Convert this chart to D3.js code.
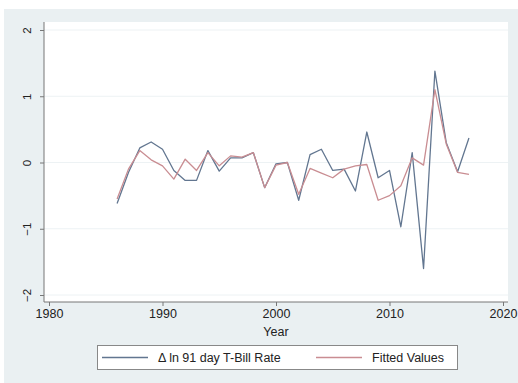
<!DOCTYPE html>
<html>
<head>
<meta charset="utf-8">
<script src="https://cdn.jsdelivr.net/npm/d3@7"></script>
<style>
  body { margin: 0; background: #fff; }
  text { font-family: "Liberation Sans", Arial, sans-serif; fill: #222; }
</style>
</head>
<body>
<svg id="chart" width="518" height="383"></svg>
<script>
// data
const years = d3.range(1986, 2018);
const actual = [-0.62, -0.15, 0.22, 0.31, 0.2, -0.12, -0.27, -0.27, 0.18, -0.13, 0.07, 0.07, 0.15, -0.38, -0.02, 0, -0.57, 0.12, 0.2, -0.12, -0.1, -0.43, 0.46, -0.23, -0.12, -0.97, 0.15, -1.6, 1.38, 0.3, -0.14, 0.37];
const fitted = [-0.55, -0.1, 0.18, 0.04, -0.05, -0.25, 0.05, -0.12, 0.15, -0.05, 0.1, 0.08, 0.15, -0.38, -0.04, 0, -0.48, -0.09, -0.16, -0.23, -0.1, -0.05, -0.03, -0.57, -0.5, -0.35, 0.07, -0.04, 1.1, 0.28, -0.15, -0.18];
const xTicks = [1980, 1990, 2000, 2010, 2020];
const yTicks = [-2, -1, 0, 1, 2];
const seriesNames = ["\u0394 ln 91 day T-Bill Rate", "Fitted Values"];
const seriesColors = ["#627690", "#c98d92"];

const svg = d3.select("#chart");

// outer graph region
svg.append("rect").attr("x", 4).attr("y", 9).attr("width", 514).attr("height", 374)
  .attr("fill", "#eaf0f2");

const plot = { left: 44, right: 508, top: 22, bottom: 302 };
svg.append("rect").attr("x", plot.left).attr("y", plot.top)
  .attr("width", plot.right - plot.left).attr("height", plot.bottom - plot.top)
  .attr("fill", "#fff");

const x = d3.scaleLinear().domain([1980, 2020]).range([49, 503]);
const y = d3.scaleLinear().domain([-2, 2]).range([295, 30]);

// grid
svg.append("g").selectAll("line").data(yTicks).join("line")
  .attr("x1", plot.left).attr("x2", plot.right)
  .attr("y1", d => y(d)).attr("y2", d => y(d))
  .attr("stroke", "#edf2f4").attr("stroke-width", 1);

// axes
const yAxis = svg.append("g").attr("transform", `translate(${plot.left},0)`)
  .call(d3.axisLeft(y).tickValues(yTicks).tickSize(4).tickPadding(6).tickFormat(d3.format("d")));
yAxis.select(".domain").attr("d", `M0,${plot.top}V${plot.bottom}`).attr("stroke", "#777");
yAxis.selectAll(".tick line").attr("stroke", "#777");
yAxis.selectAll(".tick text")
  .attr("font-size", 11.5).attr("fill", "#333")
  .attr("text-anchor", "middle").attr("dy", 0)
  .attr("transform", "translate(-13,0) rotate(-90)").attr("x", 0).attr("y", 0);

const xAxis = svg.append("g").attr("transform", `translate(0,${plot.bottom})`)
  .call(d3.axisBottom(x).tickValues(xTicks).tickSize(4).tickPadding(3).tickFormat(d3.format("d")));
xAxis.select(".domain").attr("d", `M${plot.left},0H${plot.right}`).attr("stroke", "#777");
xAxis.selectAll(".tick line").attr("stroke", "#777");
xAxis.selectAll(".tick text").attr("font-size", 12.5).attr("fill", "#333");

svg.append("text").attr("x", x(2000)).attr("y", 336).attr("text-anchor", "middle")
  .attr("font-size", 12.5).attr("fill", "#333").text("Year");

// lines
const line = vals => d3.line().x((d, i) => x(years[i])).y(d => y(d))(vals);
[actual, fitted].forEach((vals, i) => {
  svg.append("path").attr("d", line(vals)).attr("fill", "none")
    .attr("stroke", seriesColors[i]).attr("stroke-width", 1.3)
    .attr("stroke-linejoin", "round");
});

// legend
const legend = svg.append("g");
legend.append("rect").attr("x", 97.5).attr("y", 345.5).attr("width", 360).attr("height", 24)
  .attr("fill", "#fff").attr("stroke", "#888");
const legX = [102, 316];
seriesNames.forEach((name, i) => {
  legend.append("line").attr("x1", legX[i]).attr("x2", legX[i] + 46)
    .attr("y1", 357.5).attr("y2", 357.5)
    .attr("stroke", seriesColors[i]).attr("stroke-width", 1.3);
  legend.append("text").attr("x", legX[i] + 56).attr("y", 362)
    .attr("font-size", 12.5).attr("fill", "#333").text(name);
});
</script>
</body>
</html>
